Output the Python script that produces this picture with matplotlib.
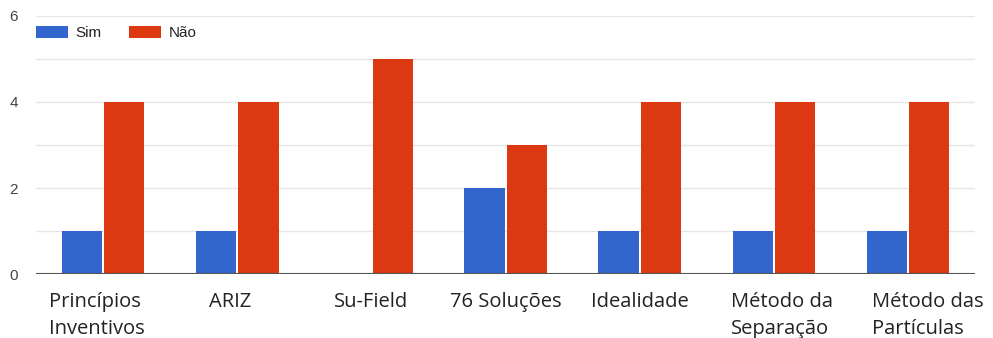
import numpy as np
import matplotlib.pyplot as plt
from matplotlib.transforms import ScaledTranslation

categories = ['Princípios\nInventivos', 'ARIZ', 'Su-Field', '76 Soluções',
              'Idealidade', 'Método da\nSeparação', 'Método das\nPartículas']
sim = [1, 1, 0, 2, 1, 1, 1]
nao = [4, 4, 5, 3, 4, 4, 4]

# small horizontal nudges (pixels) of the category labels, as in the original
label_shift = [-6, -7, 0, 0, 0, 8, 20]

blue = '#3366cc'
red = '#dc3912'

fig = plt.figure(figsize=(9.93, 3.38), dpi=100)
ax = fig.add_axes([0.0363, 0.1893, 0.9457, 0.7634])

x = np.arange(len(categories))
w = 0.30
ax.bar(x - w/2 - 0.008, sim, w, color=blue, label='Sim', zorder=3)
ax.bar(x + w/2 + 0.008, nao, w, color=red, label='Não', zorder=3)

ax.set_xlim(-0.5, len(categories) - 0.5)
ax.set_ylim(0, 6)
ax.set_yticks([0, 2, 4, 6])
ax.set_yticks(np.arange(0, 7), minor=True)
ax.grid(axis='y', which='both', color='#e6e6e6', lw=1, zorder=0)
ax.axhline(0, color='#555555', lw=1.5, zorder=4)

for s in ax.spines.values():
    s.set_visible(False)
ax.tick_params(axis='y', which='both', length=0, pad=13, labelsize=11,
               labelcolor='#444444')
for t in ax.get_yticklabels():
    t.set_fontfamily('Liberation Sans')
ax.set_xticks(x)
ax.set_xticklabels(categories, fontsize=14.5, fontfamily='Open Sans',
                   color='#222222', multialignment='left', va='top',
                   linespacing=1.45)
ax.tick_params(axis='x', length=0, pad=13)
for t, dx in zip(ax.get_xticklabels(), label_shift):
    t.set_transform(t.get_transform() +
                    ScaledTranslation(dx / 100, 0, fig.dpi_scale_trans))

leg = ax.legend(loc='center left', bbox_to_anchor=(0.0, 0.934), ncol=2,
                frameon=False, handlelength=2.1, handleheight=0.85,
                columnspacing=1.8, handletextpad=0.5, borderaxespad=0,
                borderpad=0,
                prop={'family': 'Liberation Sans', 'size': 11})
for t in leg.get_texts():
    t.set_color('#222222')

fig.savefig('out.png', dpi=100)
